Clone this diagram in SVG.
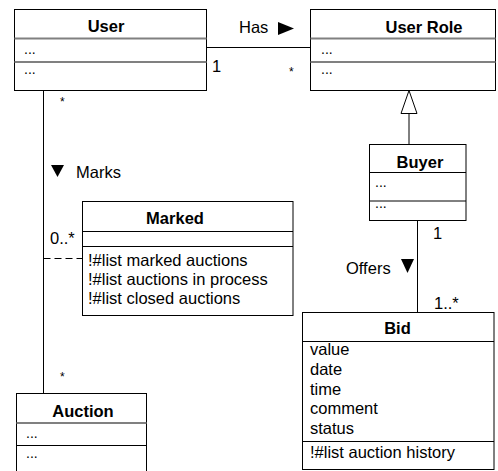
<svg xmlns="http://www.w3.org/2000/svg" width="498" height="471" viewBox="0 0 498 471">
<style>
.box{fill:#fff;stroke:#000;stroke-width:1}
.sepg{stroke:#808080;stroke-width:2}
.sep{stroke:#000;stroke-width:1}
.t{font-family:"Liberation Sans",Arial,sans-serif;font-size:16.5px;fill:#000}
.b{font-weight:bold;text-anchor:middle}
.d{font-family:"Liberation Sans",Arial,sans-serif;font-size:14px;fill:#000}
.s{font-family:"Liberation Sans",Arial,sans-serif;font-size:12px;fill:#000}
.ln{stroke:#000;stroke-width:1;fill:none}
</style>
<rect width="498" height="471" fill="#fff"/>
<g id="connectors">
  <line class="ln" x1="206.5" y1="47.5" x2="310.5" y2="47.5"/>
  <line class="ln" x1="43.5" y1="90.5" x2="43.5" y2="393.5"/>
  <line class="ln" x1="409" y1="113.5" x2="409" y2="144.5"/>
  <polygon points="409,90.5 401,113.5 417,113.5" fill="#fff" stroke="#000" stroke-width="1"/>
  <line class="ln" x1="417.5" y1="220.5" x2="417.5" y2="312.5"/>
  <line class="ln" x1="43.5" y1="258.5" x2="82.5" y2="258.5" stroke-dasharray="7 4"/>
  <text class="t" x="239" y="33">Has</text>
  <polygon points="278,22 294,28.5 278,35" fill="#000"/>
  <text class="t" x="212" y="72">1</text>
  <text class="s" x="289" y="76">*</text>
  <text class="s" x="60" y="106">*</text>
  <polygon points="51,165 64,165 57.5,177" fill="#000"/>
  <text class="t" x="76" y="178">Marks</text>
  <text class="t" x="50" y="244">0..*</text>
  <text class="s" x="60" y="381">*</text>
  <text class="t" x="433" y="239">1</text>
  <text class="t" x="346" y="274">Offers</text>
  <polygon points="401,259 414,259 407.5,273" fill="#000"/>
  <text class="t" x="434" y="309">1..*</text>
</g>
<g id="user">
  <rect class="box" x="14.5" y="9.5" width="192" height="81"/>
  <line class="sepg" x1="14.5" y1="38.5" x2="206.5" y2="38.5"/>
  <line class="sepg" x1="14.5" y1="62" x2="206.5" y2="62"/>
  <text class="t b" x="106" y="32">User</text>
  <text class="d" x="24" y="54">...</text>
  <text class="d" x="24" y="74">...</text>
</g>
<g id="user-role">
  <rect class="box" x="310.5" y="9.5" width="185" height="81"/>
  <line class="sepg" x1="310.5" y1="38.5" x2="495.5" y2="38.5"/>
  <line class="sepg" x1="310.5" y1="62" x2="495.5" y2="62"/>
  <text class="t b" x="424" y="33">User Role</text>
  <text class="d" x="321" y="54">...</text>
  <text class="d" x="321" y="74">...</text>
</g>
<g id="buyer">
  <rect class="box" x="369.5" y="144.5" width="96.5" height="76"/>
  <line class="sep" x1="369.5" y1="172.5" x2="466" y2="172.5" stroke="#333"/>
  <line class="sep" x1="369.5" y1="201" x2="466" y2="201"/>
  <text class="t b" x="420" y="168">Buyer</text>
  <text class="d" x="375" y="187">...</text>
  <text class="d" x="375" y="208">...</text>
</g>
<g id="marked">
  <rect class="box" x="82.5" y="201.5" width="210.5" height="114"/>
  <line class="sep" x1="82.5" y1="231.5" x2="293" y2="231.5"/>
  <line class="sep" x1="82.5" y1="246.5" x2="293" y2="246.5"/>
  <text class="t b" x="175" y="224">Marked</text>
  <text class="t" x="88" y="266">!#list marked auctions</text>
  <text class="t" x="88" y="285">!#list auctions in process</text>
  <text class="t" x="88" y="304">!#list closed auctions</text>
</g>
<g id="bid">
  <rect class="box" x="302.5" y="312.5" width="191.5" height="157"/>
  <line class="sep" x1="302.5" y1="341.5" x2="494" y2="341.5"/>
  <line class="sep" x1="302.5" y1="441.5" x2="494" y2="441.5"/>
  <text class="t b" x="397.5" y="334">Bid</text>
  <text class="t" x="310" y="355">value</text>
  <text class="t" x="310" y="375">date</text>
  <text class="t" x="310" y="395">time</text>
  <text class="t" x="310" y="414">comment</text>
  <text class="t" x="310" y="434">status</text>
  <text class="t" x="310" y="458">!#list auction history</text>
</g>
<g id="auction">
  <rect class="box" x="16.5" y="393.5" width="130" height="90"/>
  <line class="sepg" x1="16.5" y1="423" x2="146.5" y2="423"/>
  <line class="sep" x1="16.5" y1="445.5" x2="146.5" y2="445.5"/>
  <text class="t b" x="83" y="417">Auction</text>
  <text class="d" x="26" y="438">...</text>
  <text class="d" x="26" y="458">...</text>
</g>
</svg>
